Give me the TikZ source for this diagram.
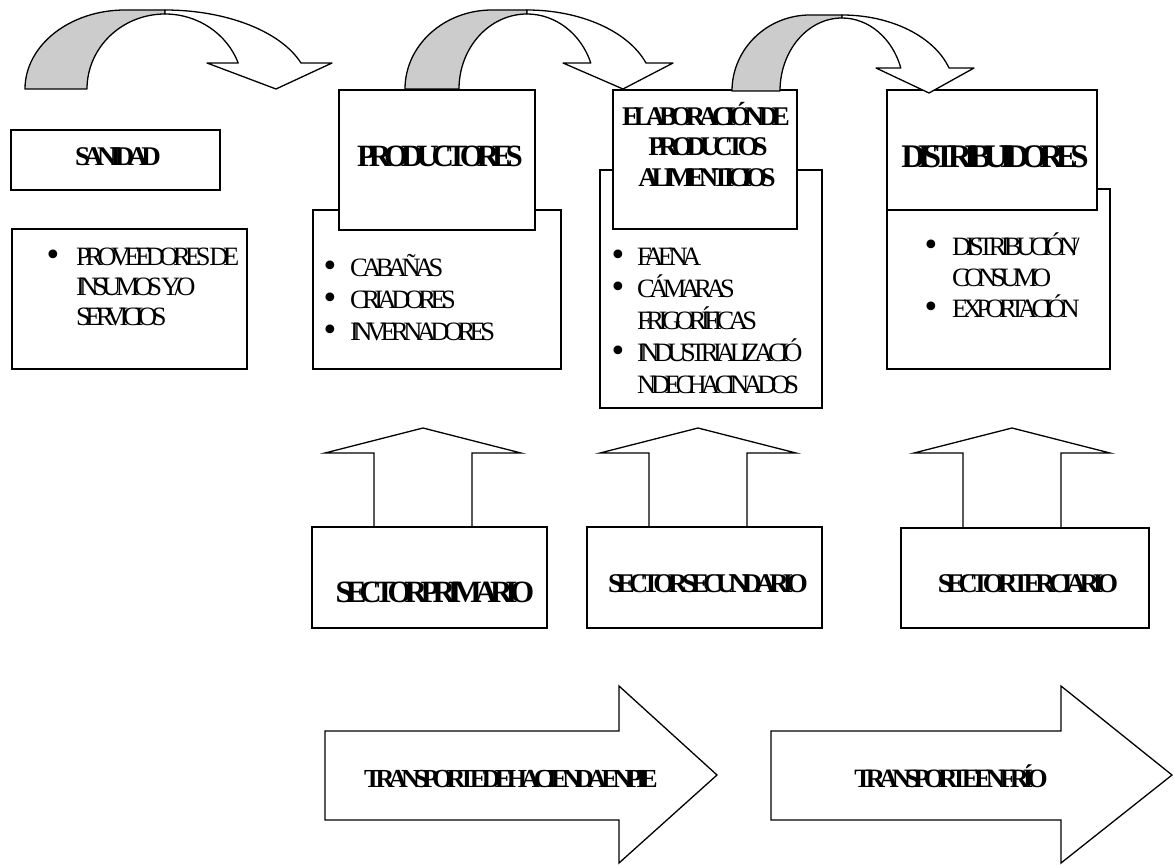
\documentclass[tikz,border=0pt]{standalone}
\usepackage{fontspec}
\newfontfamily\cf{Liberation Serif}[LetterSpace=-21]
\newfontfamily\cfb{Liberation Serif}[LetterSpace=-23]
\newfontfamily\bulfont{DejaVu Sans}
\newcommand\bul[1]{\makebox[0pt][r]{{\bulfont\fontsize{30}{30}\selectfont\char"2022}\hspace{#1pt}}}
\newcommand\hs{\hspace{-0.2em}}
\newcommand\bs{\hspace{-0.04em}}
\definecolor{shade}{RGB}{204,204,204}
\tikzset{
 bx/.style={draw=black, fill=white, line width=1.3pt},
 blk/.style={draw=black, fill=white, line width=1.3pt, line join=miter},
 curv/.style={draw=black, line width=1.3pt, line join=round},
 hd/.style={anchor=base, inner sep=0pt, font={\cfb\bfseries\fontsize{#1}{#1}\selectfont}},
 li/.style={anchor=base west, inner sep=0pt, font={\cf\fontsize{26.5}{26.5}\selectfont}},
}
\begin{document}
\begin{tikzpicture}[x=1pt,y=-1pt]
\fill[white] (0,0) rectangle (1174,864);
\useasboundingbox (0,0) rectangle (1174,864);

% lower boxes
\draw[bx] (11,130) rectangle (220,190);
\draw[bx] (12,229) rectangle (247,369);
\draw[bx] (313,210) rectangle (561,369);
\draw[bx] (600,170) rectangle (822,408);
\draw[bx] (887,189) rectangle (1110,369);
% upper boxes
\draw[bx] (339,90) rectangle (535,230);
\draw[bx] (613,90) rectangle (797,229);
\draw[bx] (887,90) rectangle (1097,210);

% curved arrow 1
\filldraw[curv, fill=shade] (25,89) arc[start angle=180, end angle=270, x radius=100, y radius=79] -- (165,10) -- (165,14) arc[start angle=270, end angle=180, x radius=78, y radius=75] -- cycle;
\filldraw[curv, fill=white] (165,10) arc[start angle=270, end angle=340.79, x radius=144, y radius=79] -- (332,63) -- (276,89) -- (207,63) -- (238.2,63) arc[start angle=339.72, end angle=270, x radius=78, y radius=75] -- cycle;
% curved arrow 2
\filldraw[curv, fill=shade] (405,89) arc[start angle=180, end angle=270, x radius=87, y radius=79] -- (527,10) -- (527,14) arc[start angle=270, end angle=180, x radius=68, y radius=75] -- cycle;
\filldraw[curv, fill=white] (527,10) arc[start angle=270, end angle=340.79, x radius=126, y radius=79] -- (673,63) -- (623,89) -- (563,63) -- (590.8,63) arc[start angle=339.72, end angle=270, x radius=68, y radius=75] -- cycle;
% curved arrow 3
\filldraw[curv, fill=shade] (732,91) arc[start angle=180, end angle=270, x radius=78, y radius=76] -- (842,15) -- (842,18) arc[start angle=270, end angle=180, x radius=62, y radius=73] -- cycle;
\filldraw[curv, fill=white] (842,15) arc[start angle=270, end angle=342.38, x radius=112.3, y radius=76] -- (974,68) -- (929,93) -- (876,68) -- (900.8,68) arc[start angle=341.64, end angle=270, x radius=62, y radius=73] -- cycle;

% up arrows
\filldraw[blk] (374,527) -- (374,453) -- (325,453) -- (423,428) -- (521,453) -- (472,453) -- (472,527);
\filldraw[blk] (649,527) -- (649,453) -- (600,453) -- (698,428) -- (796,453) -- (747,453) -- (747,527);
\filldraw[blk] (963,528) -- (963,453) -- (914,453) -- (1012,428) -- (1110,453) -- (1061,453) -- (1061,528);
% sector boxes
\draw[bx] (312,527) rectangle (547,628);
\draw[bx] (587,527) rectangle (822,628);
\draw[bx] (901,528) rectangle (1149,628);

% bottom arrows
\filldraw[blk] (325,731) -- (619,731) -- (619,686) -- (717,775) -- (619,863) -- (619,820) -- (325,820) -- cycle;
\filldraw[blk] (771,731) -- (1061,731) -- (1061,686) -- (1172,775) -- (1061,863) -- (1061,820) -- (771,820) -- cycle;

% headings
\node[hd=27] (san) at (118,165) {SANIDAD};
\node[hd=31] (prod) at (440,166) {PRODUCTORES};
\node[hd=27] (elab1) at (706,125) {ELABORACIÓN\hs DE};
\node[hd=27] (elab2) at (708,155) {PRODUCTOS};
\node[hd=27] (elab3) at (707,186) {ALIMENTICIOS};
\node[hd=33] (dist) at (995,167) {DISTRIBUIDORES};
\node[hd=31] (sp) at (435,602) {SECTOR\hs PRIMARIO};
\node[hd=27] (ss) at (708,592) {SECTOR\hs SECUNDARIO};
\node[hd=27] (st) at (1028,592) {SECTOR\hs TERCIARIO};
\node[hd=26] (th) at (511,787) {TRANSPORTE\hs DE\hs HACIENDA\hs EN\hs PIE};
\node[hd=26.5] (tf) at (951,787) {TRANSPORTE\hs EN\hs FRÍO};

% lists
\node[li] (pv1) at (76,265) {\bul{14.2}PROVEEDORES\bs DE};
\node[li] (pv2) at (76,295) {INSUMOS\bs Y/O};
\node[li] (pv3) at (76,325) {SERVICIOS};

\node[li] (pr1) at (350,276) {\bul{11.2}CABAÑAS};
\node[li] (pr2) at (350,308) {\bul{11.2}CRIADORES};
\node[li] (pr3) at (350,340) {\bul{11.2}INVERNADORES};

\node[li] (el1) at (637,265) {\bul{10.2}FAENA};
\node[li] (el2) at (637,297) {\bul{10.2}CÁMARAS};
\node[li] (el3) at (637,329) {FRIGORÍFICAS};
\node[li] (el4) at (637,361) {\bul{10.2}INDUSTRIALIZACIÓ};
\node[li] (el5) at (637,393) {N\hs DE\hs CHACINADOS};

\node[li] (di1) at (952,255) {\bul{12.2}DISTRIBUCIÓN/};
\node[li] (di2) at (952,286) {CONSUMO};
\node[li] (di3) at (952,317) {\bul{12.2}EXPORTACIÓN};
\end{tikzpicture}
\end{document}
